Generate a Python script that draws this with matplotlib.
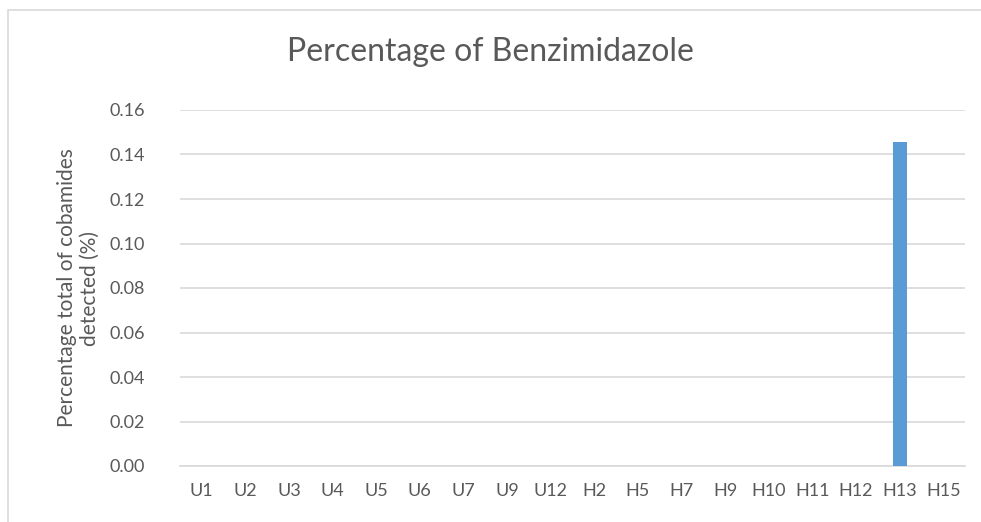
import numpy as np
import matplotlib.pyplot as plt
from matplotlib.patches import Rectangle

# Sample labels and benzimidazole percentage values
samples = ["U1", "U2", "U3", "U4", "U5", "U6", "U7", "U9", "U12",
           "H2", "H5", "H7", "H9", "H10", "H11", "H12", "H13", "H15"]
values = [0, 0, 0, 0, 0, 0, 0, 0, 0,
          0, 0, 0, 0, 0, 0, 0, 0.1455, 0]
yticks = [0.00, 0.02, 0.04, 0.06, 0.08, 0.10, 0.12, 0.14, 0.16]

plt.rcParams['font.family'] = ['Lato', 'DejaVu Sans']
text_col = "#595959"

fig = plt.figure(figsize=(9.81, 5.22), dpi=100)
ax = fig.add_axes([180 / 981, 56 / 522, 785 / 981, 356 / 522])

x = np.arange(len(samples))
ax.bar(x, values, width=0.32, color="#5b9bd5", zorder=3)

ax.set_xlim(-0.5, len(samples) - 0.5)
ax.set_ylim(0, 0.16)
ax.set_yticks(yticks)
ax.set_yticklabels([f"{v:.2f}" for v in yticks])
ax.set_xticks(x)
ax.set_xticklabels(samples)
ax.tick_params(axis='both', length=0, labelsize=13, colors=text_col)
ax.tick_params(axis='x', pad=12)
ax.tick_params(axis='y', pad=25)
ax.grid(axis='y', color="#d9d9d9", linewidth=1.2, zorder=0)
for s in ["top", "right", "left"]:
    ax.spines[s].set_visible(False)
ax.spines["bottom"].set_color("#d9d9d9")
ax.spines["bottom"].set_linewidth(1.2)

ax.set_ylabel("Percentage total of cobamides\ndetected (%)", fontsize=15,
              color=text_col, labelpad=7)
fig.text(0.5, 1 - 52 / 522, "Percentage of Benzimidazole", ha="center",
         va="center", fontsize=23, color=text_col)

# chart area border
fig.patches.append(Rectangle((8 / 981, -0.1), 1.2, 1 - 10 / 522 + 0.1,
                             transform=fig.transFigure, fill=False,
                             edgecolor="#d9d9d9", linewidth=1.2))

plt.savefig("out.png", dpi=100)
